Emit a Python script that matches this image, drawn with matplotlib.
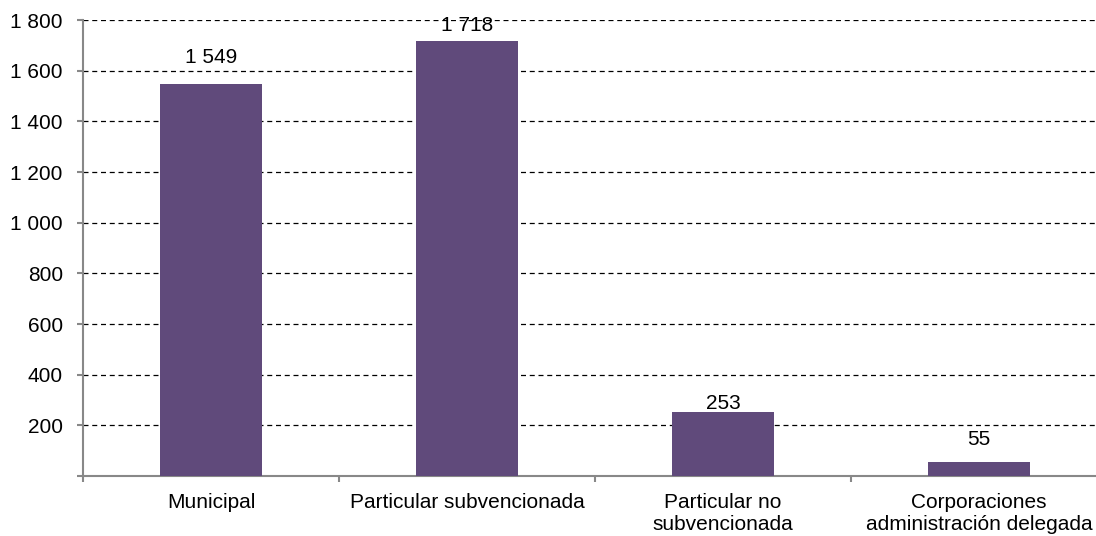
import matplotlib
matplotlib.use("Agg")
import matplotlib.pyplot as plt
import numpy as np

categories = ["Municipal", "Particular subvencionada",
              "Particular no\nsubvencionada",
              "Corporaciones\nadministración delegada"]
values = [1549, 1718, 253, 55]
yticks = list(range(0, 1801, 200))

# vertical offsets (points) of each value label above its bar
label_offsets = [19, 11, 6, 16]


def fmt(v):
    return f"{v:,}".replace(",", " ")


plt.rcParams["font.family"] = ["Liberation Sans", "DejaVu Sans"]

fig = plt.figure(figsize=(10.96, 5.36), dpi=100)
ax = fig.add_axes([83 / 1096, 1 - 476 / 536, 1024 / 1096, 456 / 536])

x = np.arange(len(categories))
ax.bar(x, values, width=0.4, color="#604A7B", zorder=3)

for xi, v, off in zip(x, values, label_offsets):
    ax.annotate(fmt(v), (xi, v), xytext=(0, off), textcoords="offset points",
                ha="center", va="center", fontsize=15, color="black", zorder=4)

ax.set_xlim(-0.5, len(categories) - 0.5)
ax.set_ylim(0, 1800)
ax.set_yticks(yticks)
ax.set_yticklabels(["" if t == 0 else fmt(t) for t in yticks], fontsize=15)

ax.set_xticks(x)
ax.set_xticklabels(categories, fontsize=15, linespacing=1.22)
ax.set_xticks(np.arange(-0.5, len(categories), 1), minor=True)
ax.tick_params(axis="x", which="major", length=0, pad=12)
ax.tick_params(axis="x", which="minor", length=4.5, color="#888888", width=1.5)
ax.tick_params(axis="y", length=4.5, color="#888888", width=1.5, pad=10)

ax.grid(axis="y", color="black", linestyle=(0, (4, 3)), linewidth=0.9, zorder=1)
for s in ["top", "right"]:
    ax.spines[s].set_visible(False)
for s in ["left", "bottom"]:
    ax.spines[s].set_color("#888888")
    ax.spines[s].set_linewidth(1.5)

fig.savefig("out.png", dpi=100)
